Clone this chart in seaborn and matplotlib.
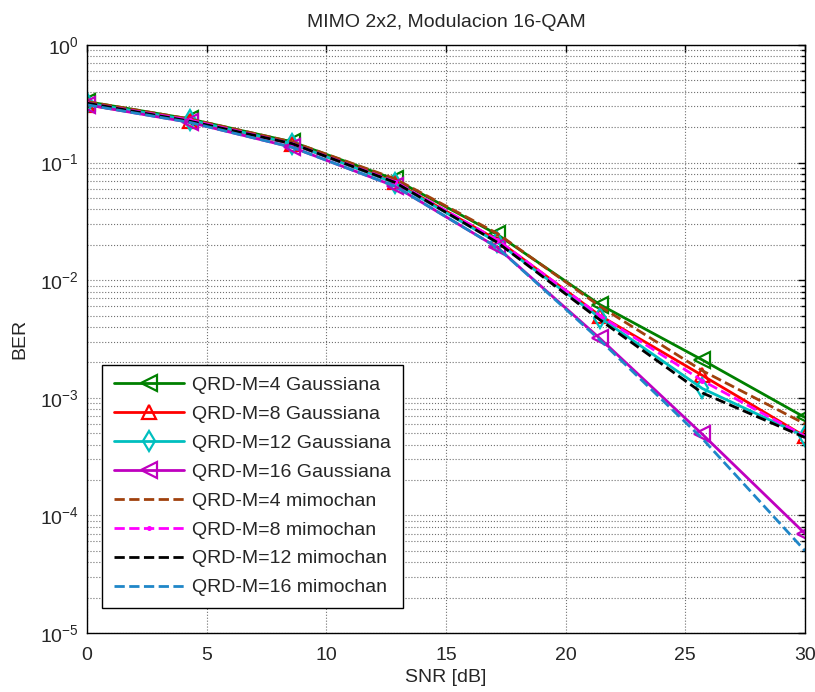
import numpy as np
import pandas as pd
import matplotlib
matplotlib.use("Agg")
import matplotlib.pyplot as plt
import seaborn as sns
from matplotlib.ticker import LogLocator, NullFormatter, MultipleLocator

# SNR points (dB)
snr = [0, 4.29, 8.57, 12.86, 17.14, 21.43, 25.71, 30]

# BER values
ber_m4_gauss = [0.33, 0.235, 0.15, 0.072, 0.0245, 0.0062, 0.0021, 0.00068]
ber_m8_gauss = [0.31, 0.225, 0.145, 0.068, 0.022, 0.0050, 0.00155, 0.00047]
ber_m12_gauss = [0.32, 0.23, 0.145, 0.067, 0.021, 0.0048, 0.0012, 0.00047]
ber_m16_gauss = [0.31, 0.22, 0.135, 0.063, 0.019, 0.0032, 0.00049, 0.00007]
ber_m4_chan = [0.33, 0.235, 0.15, 0.073, 0.025, 0.0060, 0.0017, 0.00060]
ber_m8_chan = [0.32, 0.23, 0.145, 0.069, 0.022, 0.0050, 0.0014, 0.00047]
ber_m12_chan = [0.32, 0.225, 0.145, 0.068, 0.021, 0.0046, 0.0011, 0.00046]
ber_m16_chan = [0.31, 0.22, 0.135, 0.063, 0.019, 0.0031, 0.00045, 0.00005]

labels = ['QRD-M=4 Gaussiana', 'QRD-M=8 Gaussiana', 'QRD-M=12 Gaussiana',
          'QRD-M=16 Gaussiana', 'QRD-M=4 mimochan', 'QRD-M=8 mimochan',
          'QRD-M=12 mimochan', 'QRD-M=16 mimochan']
series = [ber_m4_gauss, ber_m8_gauss, ber_m12_gauss, ber_m16_gauss,
          ber_m4_chan, ber_m8_chan, ber_m12_chan, ber_m16_chan]

# style per series: colour, linestyle, marker, marker size
styles = [
    ('#008000', '-', '<', 11),
    ('#FF0000', '-', '^', 10),
    ('#00BFBF', '-', 'd', 10),
    ('#BF00BF', '-', '<', 11),
    ('#A0410D', '--', None, 0),
    ('#FF00FF', '--', '.', 4),
    ('#000000', '--', None, 0),
    ('#1F86C8', '--', None, 0),
]

df = pd.concat([pd.DataFrame({'SNR': snr, 'BER': vals, 'curve': lab})
                for lab, vals in zip(labels, series)], ignore_index=True)

sns.set_style('white')
plt.rcParams['font.family'] = ['Liberation Sans', 'DejaVu Sans']
plt.rcParams['mathtext.fontset'] = 'custom'
plt.rcParams['mathtext.rm'] = 'Liberation Sans'

fig = plt.figure(figsize=(8.15, 6.92), dpi=100)
ax = fig.add_axes([87 / 815, 1 - 633 / 692, 718 / 815, 588 / 692])

for lab, (col, ls, mk, ms) in zip(labels, styles):
    sub = df[df['curve'] == lab]
    sns.lineplot(data=sub, x='SNR', y='BER', ax=ax, color=col, linestyle=ls,
                 linewidth=2, marker=mk, markersize=ms,
                 markerfacecolor='none' if mk not in (None, '.') else col,
                 markeredgecolor=col, markeredgewidth=1.6, label=lab)

ax.set_yscale('log')
ax.set_xlim(0, 30)
ax.set_ylim(1e-5, 1)
ax.xaxis.set_major_locator(MultipleLocator(5))
ax.yaxis.set_major_locator(LogLocator(base=10, numticks=10))
ax.yaxis.set_minor_locator(LogLocator(base=10, subs=np.arange(2, 10), numticks=20))
ax.yaxis.set_minor_formatter(NullFormatter())

ax.grid(True, which='major', color='#707070', linestyle=':', linewidth=0.8)
ax.grid(True, which='minor', axis='y', color='#707070', linestyle=':', linewidth=0.8)

ax.tick_params(which='both', direction='in', top=True, right=True, labelsize=14,
               color='black', width=1)
ax.tick_params(which='major', length=5)
ax.tick_params(which='minor', length=3)
ax.tick_params(axis='x', pad=10)
ax.tick_params(axis='y', pad=6)
for sp in ax.spines.values():
    sp.set_color('black')
    sp.set_linewidth(1)

ax.set_title('MIMO 2x2, Modulacion 16-QAM', fontsize=14, pad=13)
ax.set_xlabel('SNR [dB]', fontsize=14, labelpad=4)
ax.set_ylabel('BER', fontsize=14, labelpad=8)

leg = ax.legend(loc='lower left', bbox_to_anchor=(0.021, 0.0425), fontsize=14,
                frameon=True, fancybox=False, edgecolor='black', framealpha=1,
                handlelength=3.6, handletextpad=0.45, borderpad=0.6,
                labelspacing=0.58, borderaxespad=0)
leg.get_frame().set_linewidth(1)

fig.savefig('out.png', dpi=100)
